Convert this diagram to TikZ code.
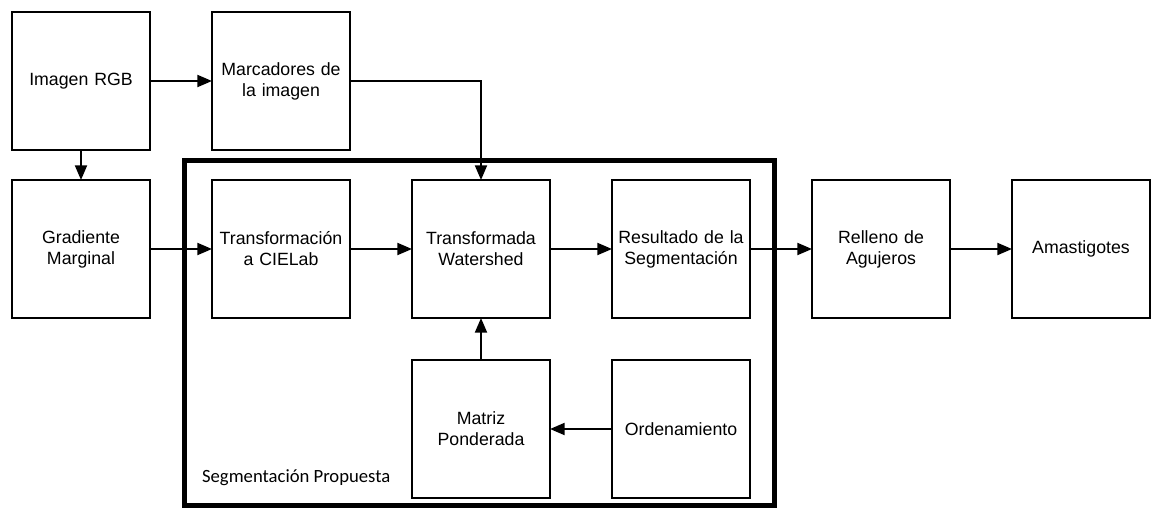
\documentclass[tikz,border=0pt]{standalone}
\usepackage{fontspec}
\setmainfont{Liberation Sans}
\newfontfamily\labelfont{Carlito}
\usetikzlibrary{positioning,arrows.meta}

\begin{document}
\begin{tikzpicture}[
    x=0.75pt, y=0.75pt,
    node distance=22.5pt and 46.5pt,
    block/.style={rectangle, draw, line width=1.5pt, outer sep=0pt,
        minimum width=103.5pt, minimum height=103.5pt, inner sep=0pt,
        text width=100pt, align=center,
        font=\fontsize{13.3}{15.8}\selectfont},
    arrow/.style={-{Triangle[length=11pt,width=9pt]}, line width=1.5pt}
]
    \useasboundingbox (-81,81) rectangle (1079,-448);

    % Top row
    \node[block] (rgb) {Imagen RGB};
    \node[block, right=of rgb] (marc) {Marcadores de\\la imagen};

    % Middle row
    \node[block, below=of rgb] (grad) {Gradiente\\Marginal};
    \node[block, right=of grad] (cielab) {Transformación\\a CIELab};
    \node[block, right=of cielab] (water) {Transformada\\Watershed};
    \node[block, right=of water] (result) {Resultado de la\\Segmentación};
    \node[block, right=of result] (relleno) {Relleno de\\Agujeros};
    \node[block, right=of relleno] (amast) {Amastigotes};

    % Bottom row
    \node[block, below=31.5pt of water] (matriz) {Matriz\\Ponderada};
    \node[block, right=of matriz] (orden) {Ordenamiento};

    % Frame of the proposed segmentation
    \coordinate (framenw) at ([xshift=-20.6pt, yshift=14.6pt]cielab.north west);
    \coordinate (framese) at ([xshift=18pt, yshift=-5.6pt]orden.south east);
    \draw[line width=3.75pt] (framenw) rectangle (framese);
    \node[anchor=base west, inner sep=0pt, font=\labelfont\fontsize{14}{16}\selectfont]
        (seglabel) at ([xshift=13pt, yshift=17.6pt]framenw |- framese) {Segmentación Propuesta};

    \draw[arrow] (rgb) -- (marc);
    \draw[arrow] (rgb) -- (grad);
    \draw[arrow] (grad) -- (cielab);
    \draw[arrow] (cielab) -- (water);
    \draw[arrow] (water) -- (result);
    \draw[arrow] (result) -- (relleno);
    \draw[arrow] (relleno) -- (amast);
    \draw[arrow] (marc.east) -| (water.north);
    \draw[arrow] (matriz) -- (water);
    \draw[arrow] (orden) -- (matriz);
\end{tikzpicture}
\end{document}
